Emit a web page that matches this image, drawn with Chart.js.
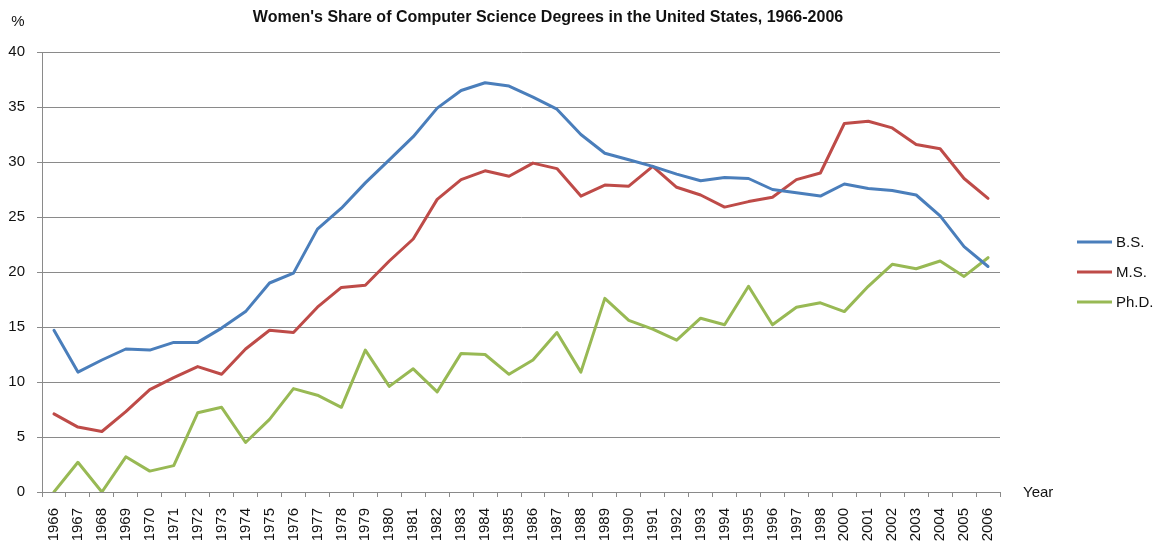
<!DOCTYPE html>
<html>
<head>
<meta charset="utf-8">
<title>Women's Share of Computer Science Degrees</title>
<script src="https://cdn.jsdelivr.net/npm/chart.js@4.4.1/dist/chart.umd.min.js"></script>
<style>
    html, body { margin: 0; padding: 0; background: #ffffff; }
    #wrap { width: 1154px; height: 546px; position: relative; }
</style>
</head>
<body>
<div id="wrap"><canvas id="degreesChart" width="1154" height="546"></canvas></div>
<script>
// Categorias (1999 não aparece no original)
const years = [
    '1966', '1967', '1968', '1969', '1970', '1971', '1972', '1973', '1974', '1975',
    '1976', '1977', '1978', '1979', '1980', '1981', '1982', '1983', '1984', '1985',
    '1986', '1987', '1988', '1989', '1990', '1991', '1992', '1993', '1994', '1995',
    '1996', '1997', '1998', '2000', '2001', '2002', '2003', '2004', '2005', '2006'
];

// Séries (% de mulheres)
const bsValues = [
    14.7, 10.9, 12.0, 13.0, 12.9, 13.6, 13.6, 14.9, 16.4, 19.0,
    19.9, 23.9, 25.8, 28.1, 30.2, 32.3, 34.9, 36.5, 37.2, 36.9,
    35.9, 34.8, 32.5, 30.8, 30.2, 29.6, 28.9, 28.3, 28.6, 28.5,
    27.5, 27.2, 26.9, 28.0, 27.6, 27.4, 27.0, 25.1, 22.3, 20.5
];
const msValues = [
    7.1, 5.9, 5.5, 7.3, 9.3, 10.4, 11.4, 10.7, 13.0, 14.7,
    14.5, 16.8, 18.6, 18.8, 21.0, 23.0, 26.6, 28.4, 29.2, 28.7,
    29.9, 29.4, 26.9, 27.9, 27.8, 29.6, 27.7, 27.0, 25.9, 26.4,
    26.8, 28.4, 29.0, 33.5, 33.7, 33.1, 31.6, 31.2, 28.5, 26.7
];
const phdValues = [
    0.0, 2.7, 0.0, 3.2, 1.9, 2.4, 7.2, 7.7, 4.5, 6.6,
    9.4, 8.8, 7.7, 12.9, 9.6, 11.2, 9.1, 12.6, 12.5, 10.7,
    12.0, 14.5, 10.9, 17.6, 15.6, 14.8, 13.8, 15.8, 15.2, 18.7,
    15.2, 16.8, 17.2, 16.4, 18.7, 20.7, 20.3, 21.0, 19.6, 21.3
];
const yTicks = [0, 5, 10, 15, 20, 25, 30, 35, 40];

const seriesNames = ['B.S.', 'M.S.', 'Ph.D.'];

const chartColors = {
    bs: '#4a7ebb',
    ms: '#be4b48',
    phd: '#98b954',
    grid: '#8a8a8a',
    text: '#111111'
};

const fontFamily = "'Liberation Sans', Arial, sans-serif";

// Título, rótulos "%" / "Year" e legenda desenhados à mão
const decorPlugin = {
    id: 'decor',
    afterDraw(chart) {
        const ctx = chart.ctx;
        const area = chart.chartArea;
        ctx.save();
        ctx.fillStyle = chartColors.text;
        ctx.textBaseline = 'middle';

        ctx.font = `bold 16px ${fontFamily}`;
        ctx.textAlign = 'center';
        ctx.fillText("Women's Share of Computer Science Degrees in the United States, 1966-2006", 548, 18);

        ctx.font = `15px ${fontFamily}`;
        ctx.fillText('%', 18, 22);

        ctx.textAlign = 'left';
        ctx.fillText('Year', area.right + 23, area.bottom + 1);

        // legenda
        const datasets = chart.data.datasets;
        const midY = (area.top + area.bottom) / 2;
        datasets.forEach((ds, i) => {
            const y = midY - 30 + i * 30;
            ctx.strokeStyle = ds.borderColor;
            ctx.lineWidth = 3;
            ctx.beginPath();
            ctx.moveTo(1077, y);
            ctx.lineTo(1112, y);
            ctx.stroke();
            ctx.fillStyle = chartColors.text;
            ctx.fillText(ds.label, 1116, y + 1);
        });
        ctx.restore();
    }
};

const ctx = document.getElementById('degreesChart');

new Chart(ctx, {
    type: 'line',
    data: {
        labels: years,
        datasets: [
            { label: seriesNames[0], data: bsValues, borderColor: chartColors.bs, backgroundColor: chartColors.bs },
            { label: seriesNames[1], data: msValues, borderColor: chartColors.ms, backgroundColor: chartColors.ms },
            { label: seriesNames[2], data: phdValues, borderColor: chartColors.phd, backgroundColor: chartColors.phd }
        ]
    },
    options: {
        responsive: false,
        animation: false,
        devicePixelRatio: 1,
        layout: { padding: { left: 0, right: 154, top: 52, bottom: 0 } },
        elements: {
            line: { borderWidth: 3, tension: 0, borderJoinStyle: 'round', borderCapStyle: 'round' },
            point: { radius: 0, hoverRadius: 0 }
        },
        plugins: {
            legend: { display: false },
            title: { display: false },
            tooltip: { enabled: false }
        },
        scales: {
            x: {
                type: 'category',
                offset: true,
                afterFit: (scale) => { scale.height = 54; },
                grid: {
                    offset: true,
                    drawOnChartArea: false,
                    drawTicks: true,
                    tickLength: 5,
                    tickColor: chartColors.grid
                },
                border: { display: true, color: chartColors.grid, width: 1 },
                ticks: {
                    autoSkip: false,
                    maxRotation: 90,
                    minRotation: 90,
                    padding: 11,
                    color: chartColors.text,
                    font: { family: fontFamily, size: 15 }
                }
            },
            y: {
                min: 0,
                max: 40,
                afterFit: (scale) => { scale.width = 42; },
                afterBuildTicks: (scale) => { scale.ticks = yTicks.map(v => ({ value: v })); },
                grid: {
                    color: chartColors.grid,
                    lineWidth: 1,
                    drawTicks: true,
                    tickLength: 5,
                    tickColor: chartColors.grid
                },
                border: { display: true, color: chartColors.grid, width: 1 },
                ticks: {
                    padding: 12,
                    color: chartColors.text,
                    font: { family: fontFamily, size: 15 }
                }
            }
        }
    },
    plugins: [decorPlugin]
});
</script>
</body>
</html>
